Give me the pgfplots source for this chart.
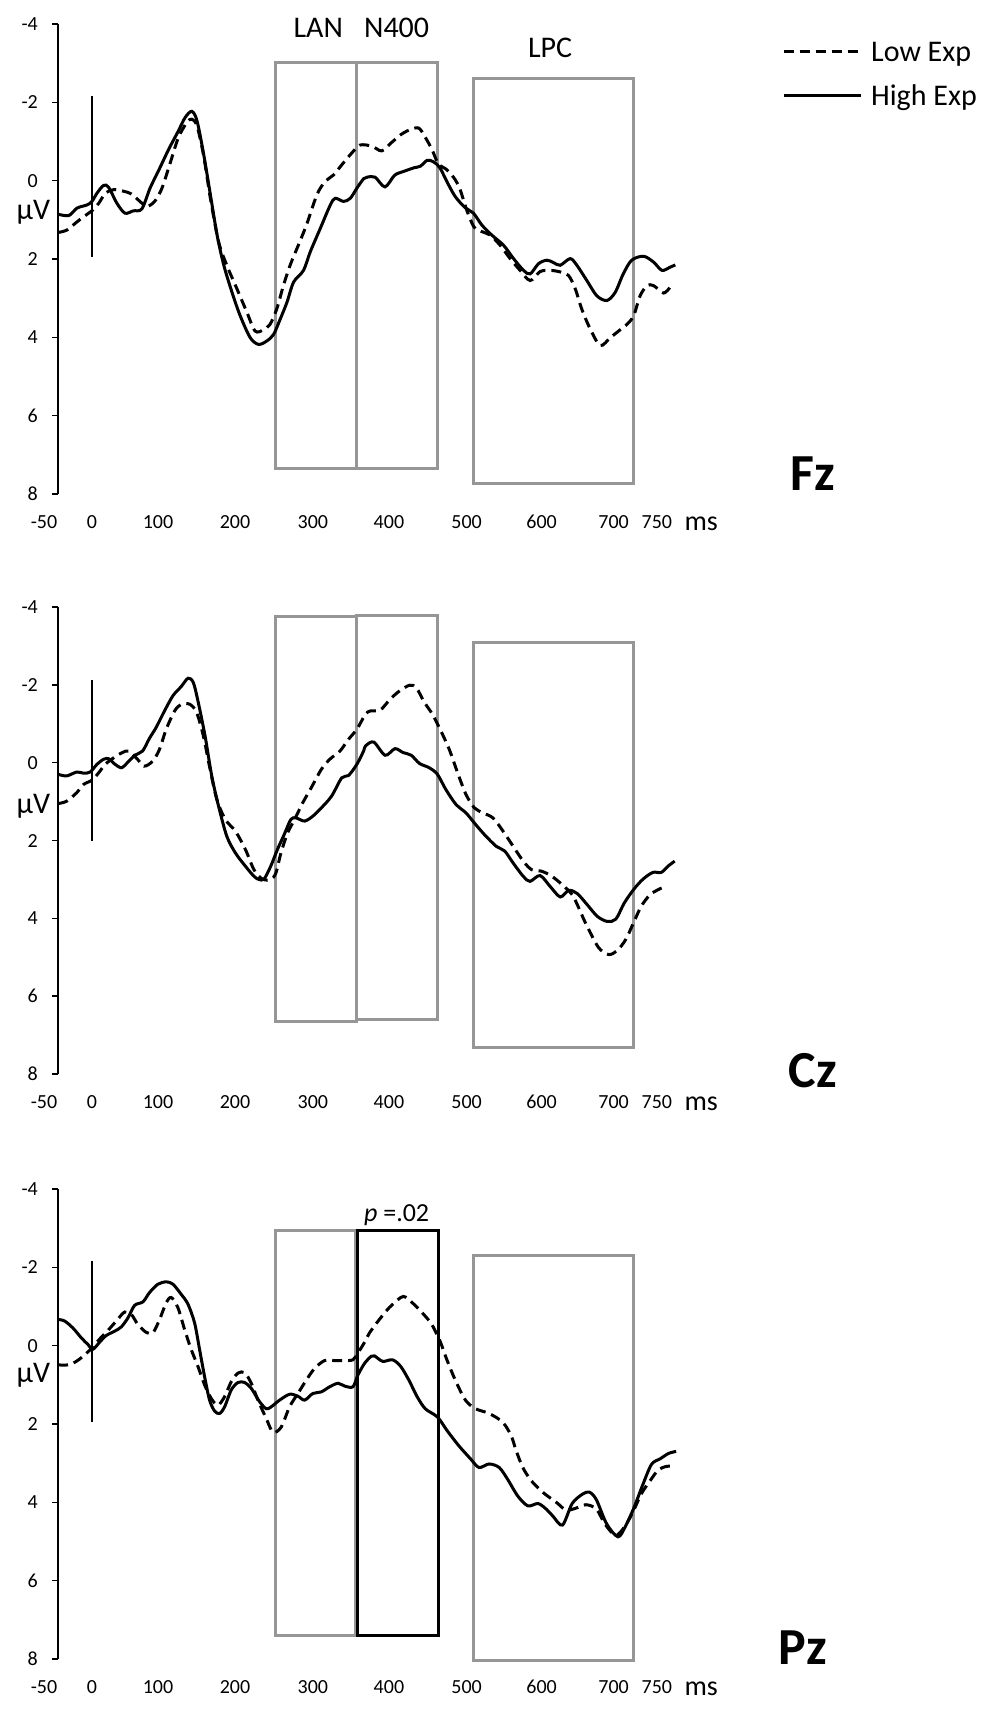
\documentclass[border=0pt]{standalone}
\usepackage{fontspec}
\setmainfont{Carlito}
\usepackage{pgfplots}
\pgfplotsset{compat=1.18}
\definecolor{boxgray}{RGB}{150,150,150}
\newcommand{\fs}[1]{\fontsize{#1}{#1}\selectfont}

\pgfplotsset{
  erp/.style={
    scale only axis, width=622.4pt,
    xmin=-45.6, xmax=790,
    ymin=-4, ymax=8, y dir=reverse,
    clip=false,
    axis line style={draw=none},
    tick align=outside,
    major tick length=6pt,
    ytick={-4,-2,0,2,4,6,8},
    yticklabels={-4,-2,0,2,4,6,8},
    ytick pos=left,
    ytick style={draw=black, line width=1.6pt},
    xtick={0,88.6,192,296.6,398.7,503,603.7,700.3,758.4},
    xticklabels={0,100,200,300,400,500,600,700,750},
    extra x ticks={-45.6},
    extra x tick labels={-50},
    extra x tick style={xticklabel style={xshift=-14pt}},
    xtick style={draw=none},
    ticklabel style={font=\fs{20}, inner sep=0pt},
    ticklabel shift=14pt,
    yticklabel style={anchor=east},
    xticklabel style={anchor=center, yshift=-8pt},
  },
  box/.style={boxgray, line width=3pt, line join=miter, forget plot},
  zero/.style={black, line width=1.5pt, forget plot},
  lowexp/.style={black, line width=3pt, smooth, tension=0.5, dash pattern=on 10pt off 6pt},
  highexp/.style={black, line width=3pt, smooth, tension=0.5},
}

\begin{document}
\begin{tikzpicture}
\useasboundingbox (0,0) rectangle (994pt,-1720pt);

% ---------- Fz ----------
\begin{axis}[erp, height=470pt, at={(58pt,-24pt)}, anchor=north west,
  legend style={draw=none, fill=none, at={(1.1632,0.9617)}, anchor=north west,
    inner sep=0pt, row sep=24.7pt, font=\fs{30},
    nodes={inner sep=0pt, text height=19.3pt, text depth=0pt}},
  legend cell align=left,
  legend image code/.code={\draw[#1] (0pt,0pt) -- (77pt,0pt); \path (86pt,0pt);}]
\draw[black, line width=2pt] (rel axis cs:0,0) -- (rel axis cs:0,1);
\addplot[box] coordinates {(247,-3.01) (355.7,-3.01) (355.7,7.36) (247,7.36)} -- cycle;
\addplot[box] coordinates {(355.7,-3.01) (463.8,-3.01) (463.8,7.36) (355.7,7.36)} -- cycle;
\addplot[box] coordinates {(512.8,-2.62) (727.2,-2.62) (727.2,7.72) (512.8,7.72)} -- cycle;
\addplot[zero] coordinates {(0,-2.16) (0,1.94)};
\addplot[lowexp] table {
x y
-44.7 1.32
-33.6 1.26
-20 1.05
-6.7 0.86
0 0.77
9 0.58
18 0.32
29 0.23
42.5 0.27
53 0.34
64.4 0.53
73.8 0.66
84.6 0.52
94 0.19
105 -0.45
116 -1.10
127.5 -1.49
134 -1.57
141 -1.40
150 -0.63
159 0.45
170 1.56
181 2.16
194.6 2.76
208 3.36
219 3.84
230 3.81
239 3.67
248 3.28
257 2.68
266 2.16
277 1.65
288 1.13
302 0.36
313 0.02
324 -0.14
335.6 -0.41
349 -0.71
360 -0.91
376 -0.88
389 -0.76
402 -0.97
415 -1.18
428 -1.31
439 -1.34
447.7 -1.10
456.4 -0.80
465 -0.43
476.4 -0.28
487.5 -0.03
494.3 0.23
503.1 0.75
512.8 1.18
523.3 1.30
534.6 1.39
548.0 1.65
561.4 1.99
574.8 2.29
588.3 2.55
601.7 2.32
615.2 2.29
628.6 2.33
639.8 2.42
648.8 2.76
657.6 3.28
669.0 3.79
682.4 4.21
695.8 4.01
707.0 3.84
718.2 3.67
727.2 3.45
735.9 2.94
745.2 2.68
754.0 2.68
767.4 2.87
776.1 2.72
};
\addlegendentry{Low Exp}
\addplot[highexp] table {
x y
-44.7 0.86
-31 0.89
-20 0.70
-6.7 0.62
0 0.53
6.7 0.32
15.7 0.12
22.4 0.17
33.6 0.58
44.3 0.83
55.5 0.77
67 0.72
78 0.19
89 -0.24
103 -0.80
116 -1.27
125 -1.61
134 -1.77
141 -1.53
150 -0.67
159 0.36
168 1.39
177 2.16
188 2.85
199 3.45
212.5 4.01
223.7 4.18
235 4.09
244 3.92
252.6 3.54
261.7 3.11
270.7 2.59
284 2.29
293 1.82
306.5 1.22
320 0.62
326.6 0.45
337.8 0.53
346.8 0.45
355.7 0.19
364.7 -0.05
369.5 -0.09
380 -0.09
393.4 0.16
406.4 -0.14
419 -0.24
432.5 -0.33
441 -0.37
450 -0.52
458.6 -0.48
467.1 -0.33
476.4 0.02
487.5 0.40
501.0 0.69
512.2 0.83
523.3 1.13
536.8 1.39
552.6 1.65
566.0 1.99
579.4 2.29
588.3 2.38
599.5 2.12
610.7 2.03
619.5 2.09
628.6 2.16
642.0 1.99
651.0 2.16
664.4 2.55
677.8 2.94
691.3 3.06
702.5 2.85
713.3 2.38
724.6 2.03
740.6 1.93
754.0 2.08
765.2 2.29
776.1 2.21
783.1 2.15
};
\addlegendentry{High Exp}
\node[font=\fs{30}] at (axis cs:303.8,-3.91) {LAN};
\node[font=\fs{30}] at (axis cs:409,-3.91) {N400};
\node[font=\fs{30}] at (axis cs:615,-3.40) {LPC};
\node[font=\fs{30}] at (axis cs:-78.8,0.80) {µV};
\node[font=\fs{28}] at (axis cs:818,8.77) {ms};
\node[font=\bfseries\fs{52}] at (axis cs:968,7.49) {Fz};
\end{axis}

% ---------- Cz ----------
\begin{axis}[erp, height=467pt, at={(58pt,-607pt)}, anchor=north west]
\draw[black, line width=2pt] (rel axis cs:0,0) -- (rel axis cs:0,1);
\addplot[box] coordinates {(247,-3.76) (355.7,-3.76) (355.7,6.64) (247,6.64)} -- cycle;
\addplot[box] coordinates {(355.7,-3.79) (463.8,-3.79) (463.8,6.61) (355.7,6.61)} -- cycle;
\addplot[box] coordinates {(512.8,-3.08) (727.2,-3.08) (727.2,7.31) (512.8,7.31)} -- cycle;
\addplot[zero] coordinates {(0,-2.12) (0,2.0)};
\addplot[lowexp] table {
x y
-45.3 1.05
-34 0.99
-20.4 0.77
-11.3 0.56
0 0.45
9 0.26
18 0.04
29.5 -0.13
40.8 -0.26
49.8 -0.30
61 -0.09
70 0.09
81.6 -0.04
90.6 -0.34
99.7 -0.86
111 -1.33
120 -1.50
131.4 -1.50
140.5 -1.29
149.5 -0.69
158.6 0.17
167.6 0.94
179 1.46
192.6 1.76
206 2.23
217.5 2.75
228.8 2.99
240 3.0
247 2.83
253.7 2.32
262.8 1.80
272 1.46
283 1.03
294.5 0.64
308 0.17
319.4 -0.09
333 -0.30
344.4 -0.60
355.7 -0.86
367 -1.24
373.9 -1.33
387 -1.35
400.2 -1.63
413.4 -1.85
426.5 -1.99
435.3 -1.93
446.3 -1.55
457.2 -1.24
468.3 -0.82
479.7 -0.34
490.9 0.26
502.2 0.82
513.4 1.16
524.8 1.29
538.4 1.42
551.9 1.76
565.5 2.15
579.0 2.53
590.3 2.75
603.9 2.79
617.5 2.92
631.0 3.13
644.6 3.39
653.5 3.73
662.6 4.12
679.7 4.74
693.6 4.93
705.0 4.83
716.7 4.54
728.1 4.07
737.4 3.69
748.9 3.40
760.4 3.26
771.0 3.17
};
\addplot[highexp] table {
x y
-45.3 0.30
-34 0.34
-20.4 0.24
-11.3 0.27
-2.3 0.24
6.8 0.04
15.9 -0.09
22.7 -0.10
29.5 0.02
39.4 0.13
47.6 0.0
57.5 -0.19
68 -0.30
77 -0.62
86 -0.90
97.4 -1.33
108.7 -1.72
120 -1.96
129 -2.17
136 -2.06
142.7 -1.55
151.8 -0.69
160.8 0.34
170 1.12
181 1.89
192.6 2.32
206 2.66
217.5 2.92
224 3.0
231 2.99
240 2.66
249 2.23
258 1.85
267 1.46
274 1.42
285.5 1.50
296.8 1.37
308 1.16
321.7 0.86
335.3 0.39
344.4 0.33
355.7 0.04
364.7 -0.30
367.3 -0.43
378.3 -0.53
393.6 -0.19
406.8 -0.36
417.7 -0.26
428.7 -0.19
439.7 0.02
452.8 0.13
463.8 0.30
475.1 0.69
488.6 1.07
502.1 1.29
513.4 1.55
527.0 1.85
542.8 2.15
554.1 2.27
565.5 2.58
579.0 2.92
588.0 3.05
601.6 2.90
615.1 3.18
628.7 3.45
640.0 3.28
651.3 3.36
664.9 3.65
678.5 3.95
691.9 4.08
703.3 4.02
714.5 3.61
727.2 3.26
739.4 3.0
752.9 2.82
764.3 2.82
773.3 2.66
782.3 2.53
};
\node[font=\fs{30}] at (axis cs:-78.8,1.11) {µV};
\node[font=\fs{28}] at (axis cs:818,8.77) {ms};
\node[font=\bfseries\fs{52}] at (axis cs:968,7.91) {Cz};
\end{axis}

% ---------- Pz ----------
\begin{axis}[erp, height=470pt, at={(58pt,-1189pt)}, anchor=north west]
\draw[black, line width=2pt] (rel axis cs:0,0) -- (rel axis cs:0,1);
\addplot[box] coordinates {(247,-2.94) (354.4,-2.94) (354.4,7.40) (247,7.40)} -- cycle;
\addplot[box] coordinates {(512.8,-2.31) (727.2,-2.31) (727.2,8.04) (512.8,8.04)} -- cycle;
\addplot[black, line width=3.5pt, line join=miter, forget plot] coordinates {(356.6,-2.94) (465,-2.94) (465,7.40) (356.6,7.40)} -- cycle;
\addplot[zero] coordinates {(0,-2.17) (0,1.96)};
\addplot[lowexp] table {
x y
-45.6 0.49
-32.2 0.49
-21 0.40
-12 0.27
0 0.06
10.3 -0.17
21.5 -0.39
32.7 -0.63
43.8 -0.86
52.8 -0.80
61.7 -0.54
72.9 -0.34
81.9 -0.33
90.8 -0.67
99.8 -1.10
106.5 -1.23
115.4 -0.97
124.4 -0.41
133.3 0.10
142.3 0.53
151.2 1.0
160.2 1.35
169.1 1.52
178.1 1.30
187 0.92
196 0.70
205 0.69
213.9 0.96
222.8 1.39
234 1.86
243 2.21
254 2.08
265.3 1.56
276.5 1.22
287.7 0.88
298.9 0.58
312.3 0.38
325.7 0.38
339.1 0.38
350.3 0.36
357 0.19
366 -0.09
372.7 -0.33
385.9 -0.67
399 -0.97
414.5 -1.23
421.1 -1.24
432.1 -1.06
445.3 -0.80
456.3 -0.54
467.4 -0.11
476.5 0.36
487.8 0.88
501.4 1.39
515.0 1.61
533.1 1.73
551.2 1.95
562.6 2.29
569.5 2.68
578.4 3.11
589.9 3.45
605.7 3.75
624.1 4.01
636.5 4.20
649.4 4.15
663.2 4.06
677.1 4.17
688.6 4.55
702.6 4.84
714.1 4.65
725.7 4.27
737.3 3.79
748.9 3.46
760.4 3.17
772.0 3.08
783.5 3.08
};
\addplot[highexp] table {
x y
-45.6 -0.67
-36.7 -0.63
-25.5 -0.45
-14.3 -0.20
-5.4 -0.03
1.3 0.09
10.3 -0.09
19.2 -0.26
30.4 -0.37
39.4 -0.48
48.3 -0.71
57.3 -1.03
68.5 -1.12
77.4 -1.36
88.6 -1.57
99.8 -1.63
108.7 -1.57
119.9 -1.31
128.9 -1.06
137.8 -0.58
144.5 0.10
151.2 0.79
157.9 1.39
164.7 1.67
171.4 1.73
178.1 1.56
187 1.13
196 0.94
205 0.94
213.9 1.09
225 1.43
234 1.61
240.7 1.56
251.9 1.39
265.3 1.24
276.5 1.29
285.5 1.39
296.6 1.22
307.8 1.18
319 1.05
330.2 0.96
339.1 1.03
350.3 1.05
357 0.75
366 0.45
375 0.27
379.3 0.26
390.3 0.40
403.5 0.36
414.5 0.53
425.5 0.88
436.5 1.30
447.5 1.61
463.8 1.82
476.5 2.16
492.3 2.55
508.3 2.89
519.6 3.11
533.1 3.02
546.7 3.11
558.0 3.41
571.7 3.84
585.3 4.09
598.9 4.03
610.3 4.18
619.2 4.36
631.7 4.58
644.7 4.03
658.6 3.79
667.8 3.74
677.1 3.93
691.0 4.55
706.3 4.88
716.5 4.60
728.0 4.12
739.5 3.55
751.2 3.03
762.7 2.89
774.2 2.75
784.3 2.70
};
\node[font=\fs{26}] at (axis cs:409,-3.33) {\textit{p} =.02};
\node[font=\fs{30}] at (axis cs:-78.8,0.75) {µV};
\node[font=\fs{28}] at (axis cs:818,8.77) {ms};
\node[font=\bfseries\fs{52}] at (axis cs:954,7.70) {Pz};
\end{axis}
\end{tikzpicture}
\end{document}
